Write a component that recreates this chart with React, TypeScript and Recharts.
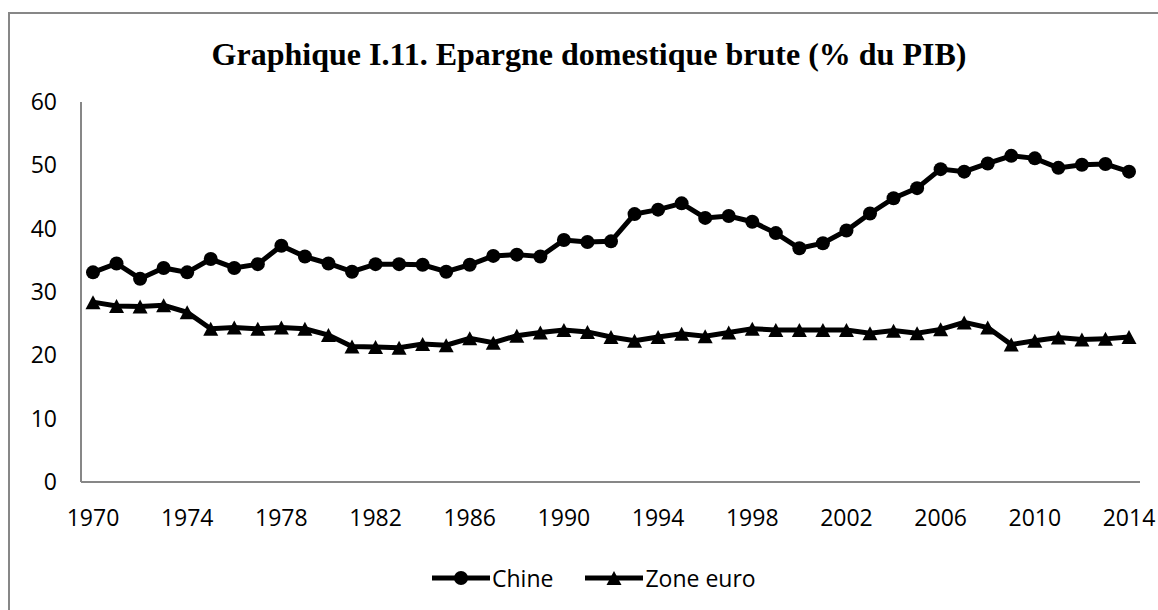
import React from "react";
import { LineChart, Line, XAxis, YAxis, Legend } from "recharts";

const years = [
  "1970", "1971", "1972", "1973", "1974", "1975", "1976", "1977", "1978", "1979",
  "1980", "1981", "1982", "1983", "1984", "1985", "1986", "1987", "1988", "1989",
  "1990", "1991", "1992", "1993", "1994", "1995", "1996", "1997", "1998", "1999",
  "2000", "2001", "2002", "2003", "2004", "2005", "2006", "2007", "2008", "2009",
  "2010", "2011", "2012", "2013", "2014",
];

const chine = [
  33.1, 34.5, 32.1, 33.8, 33.1, 35.2, 33.8, 34.4, 37.3, 35.6,
  34.5, 33.2, 34.4, 34.4, 34.3, 33.2, 34.3, 35.7, 35.9, 35.6,
  38.2, 37.9, 38.0, 42.3, 43.0, 44.0, 41.7, 42.0, 41.1, 39.3,
  36.9, 37.7, 39.7, 42.4, 44.8, 46.4, 49.4, 49.0, 50.3, 51.5,
  51.1, 49.6, 50.1, 50.2, 49.0,
];

const zoneEuro = [
  28.4, 27.8, 27.7, 27.9, 26.8, 24.2, 24.4, 24.2, 24.4, 24.2,
  23.2, 21.4, 21.3, 21.2, 21.8, 21.6, 22.7, 22.0, 23.1, 23.6,
  24.0, 23.7, 22.9, 22.3, 22.9, 23.4, 23.0, 23.6, 24.2, 24.0,
  24.0, 24.0, 24.0, 23.5, 23.9, 23.5, 24.1, 25.2, 24.4, 21.7,
  22.3, 22.8, 22.5, 22.6, 22.9,
];

const yTicks = [0, 10, 20, 30, 40, 50, 60];
const seriesNames = { chine: "Chine", euro: "Zone euro" };
const title = "Graphique I.11. Epargne domestique brute (% du PIB)";

const data = years.map((y, i) => ({ year: y, chine: chine[i], euro: zoneEuro[i] }));

const FONT = "'Open Sans', sans-serif";

const CircleDot = (props: any) => {
  const { cx, cy, index } = props;
  if (cx == null || cy == null) return null;
  return <circle key={`c-${index}`} cx={cx} cy={cy} r={7} fill="#000" />;
};

const TriangleDot = (props: any) => {
  const { cx, cy, index } = props;
  if (cx == null || cy == null) return null;
  return (
    <path
      key={`t-${index}`}
      d={`M${cx},${cy - 7} L${cx + 7.5},${cy + 7} L${cx - 7.5},${cy + 7} Z`}
      fill="#000"
    />
  );
};

const LegendContent = () => (
  <div
    style={{
      display: "flex",
      alignItems: "center",
      height: 30,
      fontFamily: FONT,
      fontSize: 23,
      color: "#000",
    }}
  >
    <svg width={58} height={20} style={{ display: "block" }}>
      <line x1={0} y1={10} x2={58} y2={10} stroke="#000" strokeWidth={5} />
      <circle cx={29} cy={10} r={7} fill="#000" />
    </svg>
    <span style={{ marginLeft: 2, lineHeight: "30px" }}>{seriesNames.chine}</span>
    <svg width={58} height={20} style={{ display: "block", marginLeft: 32 }}>
      <line x1={0} y1={10} x2={58} y2={10} stroke="#000" strokeWidth={5} />
      <path d="M29,3 L36.5,17 L21.5,17 Z" fill="#000" />
    </svg>
    <span style={{ marginLeft: 2, lineHeight: "30px" }}>{seriesNames.euro}</span>
  </div>
);

export default function App() {
  return (
    <div style={{ position: "relative", width: 1158, height: 610, overflow: "hidden", background: "#fff" }}>
      <style>{`body{margin:0;overflow:hidden;}`}</style>
      <div
        style={{
          position: "absolute",
          left: 8,
          top: 12,
          width: 1200,
          height: 700,
          borderLeft: "2px solid #878787",
          borderTop: "2px solid #878787",
        }}
      />
      <div
        style={{
          position: "absolute",
          left: 0,
          width: 1178,
          top: 36,
          textAlign: "center",
          fontFamily: "'Liberation Serif', 'Times New Roman', serif",
          fontWeight: "bold",
          fontSize: 32,
          lineHeight: "36px",
          color: "#000",
        }}
      >
        {title}
      </div>
      <div style={{ position: "absolute", left: 0, top: 0 }}>
        <LineChart
          width={1158}
          height={610}
          data={data}
          margin={{ top: 102, right: 18, left: 21, bottom: 17 }}
        >
          <XAxis
            dataKey="year"
            interval={3}
            padding={{ left: 12, right: 11 }}
            tickLine={false}
            axisLine={{ stroke: "#878787", strokeWidth: 2 }}
            tick={{ fill: "#000", fontFamily: FONT, fontSize: 23 }}
            tickMargin={22}
            height={81}
          />
          <YAxis
            domain={[0, 60]}
            ticks={yTicks}
            width={60}
            tickLine={false}
            axisLine={{ stroke: "#878787", strokeWidth: 2 }}
            tick={{ fill: "#000", fontFamily: FONT, fontSize: 23 }}
            tickMargin={18}
          />
          <Legend
            verticalAlign="bottom"
            content={<LegendContent />}
            wrapperStyle={{ left: 432, width: 340, height: 30 }}
          />
          <Line
            type="linear"
            dataKey="chine"
            name={seriesNames.chine}
            stroke="#000"
            strokeWidth={5}
            dot={CircleDot}
            activeDot={false}
            isAnimationActive={false}
          />
          <Line
            type="linear"
            dataKey="euro"
            name={seriesNames.euro}
            stroke="#000"
            strokeWidth={5}
            dot={TriangleDot}
            activeDot={false}
            isAnimationActive={false}
          />
        </LineChart>
      </div>
    </div>
  );
}
